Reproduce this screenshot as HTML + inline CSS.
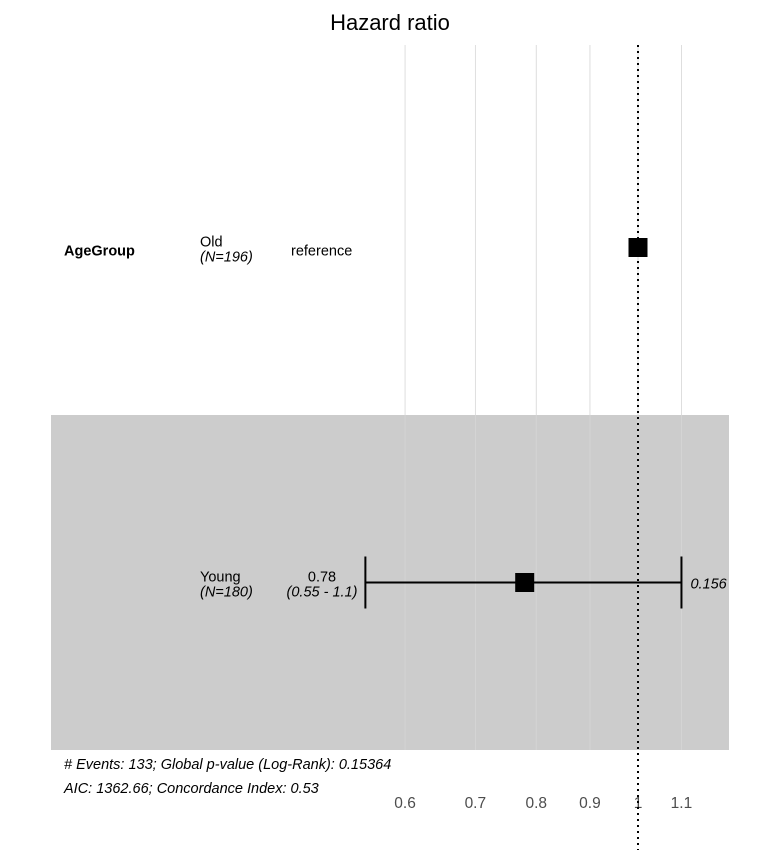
<!DOCTYPE html>
<html><head><meta charset="utf-8">
<style>
html,body{margin:0;padding:0;background:#fff;}
svg text{font-family:"Liberation Sans",Arial,sans-serif;}
</style></head>
<body>
<svg id="chart" width="775" height="850" xmlns="http://www.w3.org/2000/svg">
<text x="390" y="30" font-size="22" text-anchor="middle" fill="#000">Hazard ratio</text>
<g id="bands"></g>
<g id="grid"></g>
<g id="marks"></g>
<g id="labels"></g>
<text x="64" y="769" font-size="14.5" font-style="italic"># Events: 133; Global p-value (Log-Rank): 0.15364</text>
<text x="64" y="793" font-size="14.5" font-style="italic">AIC: 1362.66; Concordance Index: 0.53</text>
</svg>
<script>
const categories = ["Old", "Young"];
const counts = [196, 180];
const estimates = [1, 0.78];
const lowers = [null, 0.55];
const uppers = [null, 1.1];
const pvalues = [null, "0.156"];
const ciLabels = ["reference", "(0.55 - 1.1)"];
const tickValues = [0.6, 0.7, 0.8, 0.9, 1, 1.1];
const tickLabels = ["0.6", "0.7", "0.8", "0.9", "1", "1.1"];

const NS = "http://www.w3.org/2000/svg";
const x = v => 638 + 456 * Math.log(v);
const rowTop = 80, rowH = 335;
const yc = i => rowTop + rowH * i + rowH / 2;
const FS = 14.5;
function mk(tag, attrs, parent, text) {
  const e = document.createElementNS(NS, tag);
  for (const k in attrs) e.setAttribute(k, attrs[k]);
  if (text !== undefined) e.textContent = text;
  parent.appendChild(e);
  return e;
}
const bands = document.getElementById("bands"), grid = document.getElementById("grid"),
  marks = document.getElementById("marks"), labels = document.getElementById("labels");

categories.forEach((c, i) => {
  if (i % 2 === 1) {
    const r = mk("rect", {x: 51, y: rowTop + rowH * i, width: 678, height: rowH, fill: "#cccccc"}, bands);
    
    
  }
});

tickValues.forEach((v, i) => {
  const l = mk("line", {x1: x(v), x2: x(v), y1: 45, y2: 750, stroke: "#d6d6d6", "stroke-width": 0.8}, grid);
  
  
  const t = mk("text", {x: x(v), y: 808, "font-size": 15.5, "text-anchor": "middle", fill: "#4d4d4d"}, grid, tickLabels[i]);
  
  
});
const ref = mk("line", {x1: x(1), x2: x(1), y1: 45, y2: 850, stroke: "#000", "stroke-width": 2, "stroke-dasharray": "2,4"}, grid);



const vg = mk("text", {x: 64, y: yc(0) + 8, "font-size": FS, "font-weight": "bold"}, labels, "AgeGroup");



categories.forEach((c, i) => {
  const y = yc(i);
  const a = mk("text", {x: 200, y: y - 1, "font-size": FS}, labels, c);
  
  
  const n = mk("text", {x: 200, y: y + 14, "font-size": FS, "font-style": "italic"}, labels, "(N=" + counts[i] + ")");
  
  
  if (lowers[i] === null) {
    const r = mk("text", {x: 291, y: y + 8, "font-size": FS}, labels, ciLabels[i]);
    
    
  } else {
    const e = mk("text", {x: 322, y: y - 1, "font-size": FS, "text-anchor": "middle"}, labels, estimates[i].toFixed(2));
    
    
    const ci = mk("text", {x: 322, y: y + 14, "font-size": FS, "text-anchor": "middle", "font-style": "italic"}, labels, ciLabels[i]);
    
    
    const ln = mk("line", {x1: x(lowers[i]), x2: x(uppers[i]), y1: y, y2: y, stroke: "#000", "stroke-width": 2}, marks);
    
    
    [lowers[i], uppers[i]].forEach(v => {
      const cap = mk("line", {x1: x(v), x2: x(v), y1: y - 26, y2: y + 26, stroke: "#000", "stroke-width": 2}, marks);
      
      
    });
    const p = mk("text", {x: x(uppers[i]) + 9, y: y + 6, "font-size": FS, "font-style": "italic"}, labels, pvalues[i]);
    
    
  }
  const sq = mk("rect", {x: x(estimates[i]) - 9.5, y: y - 9.5, width: 19, height: 19, fill: "#000"}, marks);
  
  
});
</script>
</body></html>
